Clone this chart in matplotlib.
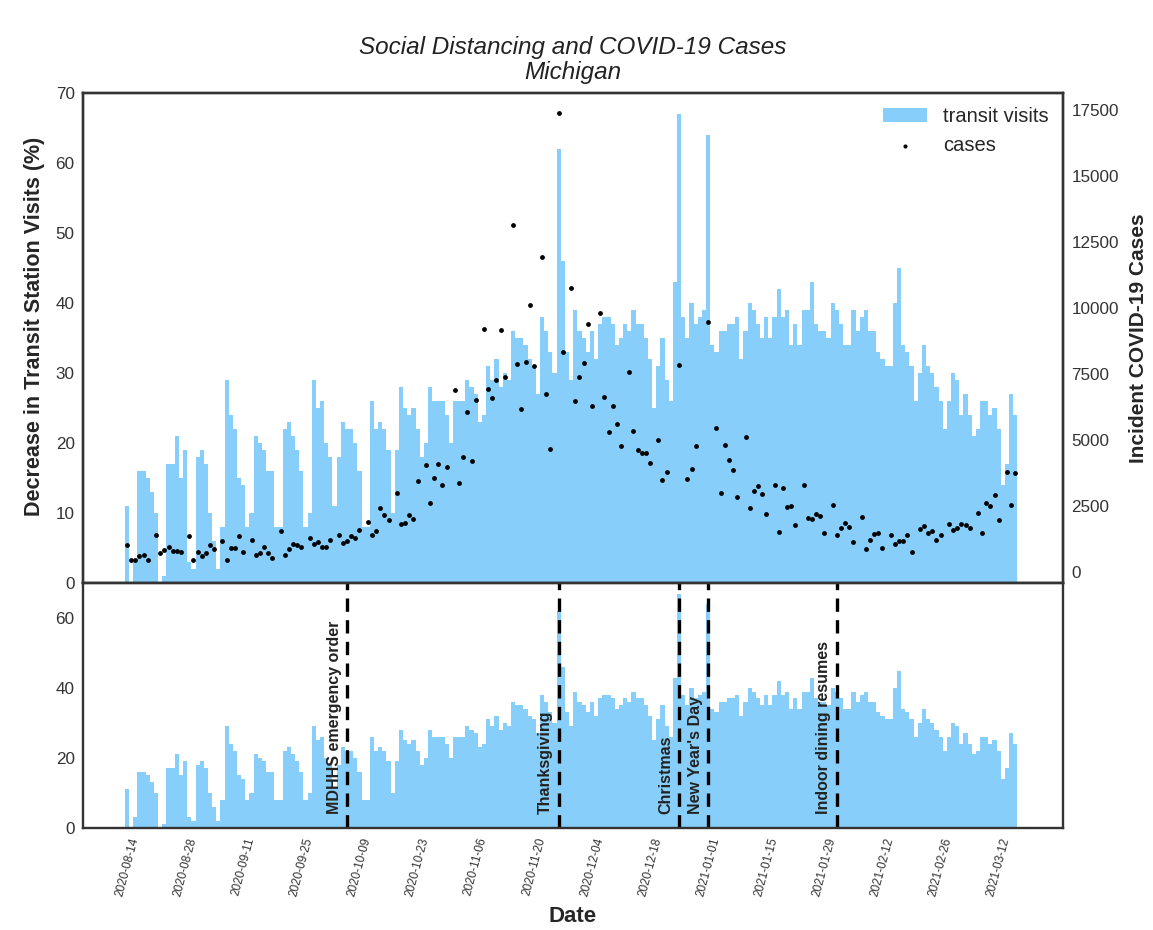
import numpy as np
import pandas as pd
import matplotlib
matplotlib.use("Agg")
from matplotlib import pyplot as plt
import matplotlib.dates as mdates

plt.rcParams['font.family'] = ['Liberation Sans', 'DejaVu Sans']
plt.rcParams['text.color'] = '#262626'
plt.rcParams['axes.labelcolor'] = '#262626'
plt.rcParams['xtick.color'] = '#333333'
plt.rcParams['ytick.color'] = '#333333'

start = '2020-08-14'

# % decrease in transit station visits, one value per day from 2020-08-14
transit = [11, 0, 3, 16, 16, 15, 13, 10, 0, 1,
           17, 17, 21, 15, 19, 3, 2, 18, 19, 17,
           10, 6, 2, 8, 29, 24, 22, 15, 14, 8,
           10, 21, 20, 19, 16, 16, 8, 8, 22, 23,
           21, 19, 16, 8, 10, 29, 25, 26, 20, 18,
           11, 18, 23, 22, 22, 20, 16, 8, 8, 26,
           22, 23, 22, 19, 10, 19, 28, 25, 24, 25,
           22, 18, 20, 28, 26, 26, 26, 24, 20, 26,
           26, 26, 29, 28, 27, 23, 24, 31, 29, 32,
           28, 30, 29, 36, 35, 35, 34, 32, 31, 27,
           38, 36, 33, 30, 62, 46, 33, 29, 39, 36,
           35, 33, 36, 32, 37, 38, 38, 37, 34, 35,
           37, 36, 39, 37, 37, 35, 32, 25, 31, 35,
           29, 26, 43, 67, 38, 35, 40, 37, 38, 39,
           64, 34, 33, 36, 36, 37, 37, 38, 32, 36,
           40, 39, 37, 35, 38, 35, 38, 42, 38, 39,
           34, 37, 34, 39, 39, 43, 37, 36, 36, 35,
           40, 39, 37, 34, 34, 39, 36, 38, 39, 36,
           36, 33, 32, 31, 31, 40, 45, 34, 33, 31,
           26, 30, 34, 31, 30, 28, 26, 22, 26, 30,
           29, 24, 27, 24, 21, 22, 26, 26, 24, 25,
           22, 14, 17, 27, 24]

nan = np.nan
# daily incident cases (no report on some days)
cases = [1023, 455, 455, 631, 669, 480, nan, 1414, 733, 859,
         947, 808, 808, 758, nan, 1364, 455, 770, 619, 733,
         1023, 884, nan, 1187, 455, 935, 935, 1389, 758, nan,
         1212, 644, 733, 973, 733, 556, nan, 1553, 657, 871,
         1061, 1023, 947, nan, 1301, 1086, 1149, 960, 960, 1238,
         nan, 1427, 1124, 1175, 1377, 1288, 1604, nan, 1907, 1427,
         1566, 2425, 2160, 1970, nan, 3006, 1831, 1857, 2160, 2021,
         3461, nan, 4054, 2640, 3574, 4105, 3309, 3991, nan, 6909,
         3397, 4383, 6088, 4218, 6542, nan, 9233, 6934, 6593, 7300,
         9182, 7414, nan, 13160, 7881, 6201, 7970, 10129, 7831, nan,
         11960, 6757, 4660, nan, 17391, 8336, nan, 10774, 6479, 7414,
         7944, 9422, 6290, nan, 9826, 6656, 5330, 6290, 5620, 4799,
         nan, 7603, 5355, 4635, 4534, 4509, 4155, nan, 5027, 3486,
         3789, nan, nan, 7856, nan, 3536, 3928, 4774, nan, nan,
         9485, nan, 5481, 3006, 4825, 4244, 3877, 2867, nan, 5115,
         2450, 3094, 3259, 2981, 2198, nan, 3322, 1516, 3183, 2475,
         2501, 1806, nan, 3322, 2059, 2033, 2223, 2122, 1490, nan,
         2564, 1415, 1692, 1869, 1730, 1162, nan, 2109, 897, 1212,
         1452, 1490, 909, nan, 1427, 1086, 1200, 1175, 1427, 783,
         nan, 1629, 1743, 1503, 1566, 1238, 1402, nan, 1831, 1604,
         1692, 1819, 1793, 1667, nan, 2248, 1490, 2640, 2526, 2918,
         1970, nan, 3789, 2551, 3764]

events = ['MDHHS emergency order', 'Thanksgiving', 'Christmas',
          "New Year's Day", 'Indoor dining resumes']
event_dates = ['2020-10-06', '2020-11-26', '2020-12-25', '2021-01-01', '2021-02-01']

dates = pd.date_range(start, periods=len(transit), freq='D')
event_dates = pd.to_datetime(event_dates)

bar_color = '#87CEFA'
spine_color = '#333333'

fig = plt.figure(figsize=(11.53, 9.30), dpi=100)
ax = fig.add_axes([0.072, 0.3731, 0.850, 0.5269])
ax_b = fig.add_axes([0.072, 0.1097, 0.850, 0.2634], sharex=ax)
ax2 = ax.twinx()

# top: transit bars + cases on second axis
bars = ax.bar(dates, transit, width=1.0, color=bar_color, linewidth=0,
              label='transit visits')
pts = ax2.scatter(dates, cases, s=6, color='black', label='cases', zorder=3)

ax.set_ylim(0, 70)
ax.set_yticks(range(0, 71, 10))
ax2.set_ylim(-400, 18150)
ax2.set_yticks(range(0, 17501, 2500))
ax.set_ylabel('Decrease in Transit Station Visits (%)', fontsize=15.5,
              fontweight='bold')
ax.yaxis.set_label_coords(-0.039, 0.524)
ax2.set_ylabel('Incident COVID-19 Cases', fontsize=15, fontweight='bold',
               labelpad=7)
ax.set_title('Social Distancing and COVID-19 Cases\nMichigan', fontsize=17.5,
             fontstyle='italic', pad=10, color='#222222', linespacing=1.12)
ax.tick_params(axis='x', labelbottom=False, length=0)
ax.legend([bars, pts], ['transit visits', 'cases'], loc='upper right',
          frameon=False, fontsize=14.5, handlelength=2.2, borderaxespad=0.3,
          markerscale=0.8)

# bottom: same bars with event markers
ax_b.bar(dates, transit, width=1.0, color=bar_color, linewidth=0)
ax_b.set_ylim(0, 70)
ax_b.set_yticks([0, 20, 40, 60])
for lab, d in zip(events, event_dates):
    ax_b.axvline(d, color='black', linestyle='--', linewidth=2.4,
                 dashes=(4, 2.5))
    ax_b.text(d - pd.Timedelta(days=1.3), 4, lab, rotation=90, ha='right',
              va='bottom', fontsize=11.5, fontweight='bold', color='#222222')

x0 = pd.Timestamp(start)
ax_b.set_xlim(x0 - pd.Timedelta(days=10.6), x0 + pd.Timedelta(days=225.5))
ticks = pd.date_range(start, '2021-03-16', freq='14D')
ax_b.set_xticks(ticks)
ax_b.xaxis.set_major_formatter(mdates.DateFormatter('%Y-%m-%d'))
ax_b.tick_params(axis='x', rotation=75, labelsize=8.5, length=0, pad=6)
ax_b.set_xlabel('Date', fontsize=16, fontweight='bold', labelpad=6)

for a in (ax, ax2, ax_b):
    a.tick_params(axis='y', labelsize=12.3, length=0, pad=6)
    for sp in a.spines.values():
        sp.set_color(spine_color)
        sp.set_linewidth(1.7)

fig.savefig('out.png', dpi=100)
